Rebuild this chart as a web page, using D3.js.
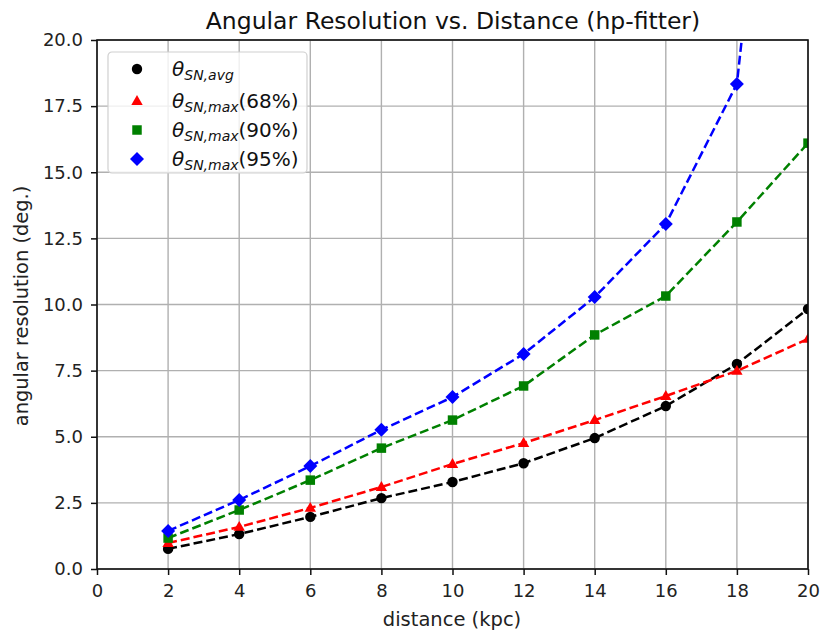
<!DOCTYPE html>
<html>
<head>
<meta charset="utf-8">
<script src="https://cdn.jsdelivr.net/npm/d3@7"></script>
<style>
  html, body { margin: 0; padding: 0; background: #fff; }
  svg { display: block; font-family: "DejaVu Sans", sans-serif; }
</style>
</head>
<body>
<svg id="chart" width="822" height="630"></svg>
<script>
// Distances (kpc) at which the resolution was evaluated
const distances = [2, 4, 6, 8, 10, 12, 14, 16, 18, 20];

// Angular resolution (deg.) per series
const thetaAvg   = [0.76, 1.32, 1.97, 2.68, 3.29, 4.00, 4.95, 6.16, 7.75, 9.83];
const thetaMax68 = [0.98, 1.59, 2.31, 3.10, 3.97, 4.76, 5.63, 6.54, 7.49, 8.70];
const thetaMax90 = [1.17, 2.23, 3.36, 4.57, 5.63, 6.92, 8.85, 10.32, 13.12, 16.10];
const thetaMax95 = [1.44, 2.61, 3.89, 5.26, 6.50, 8.13, 10.28, 13.04, 18.34, 43.0];

const xTicks = [0, 2, 4, 6, 8, 10, 12, 14, 16, 18, 20];
const yTicks = [0, 2.5, 5, 7.5, 10, 12.5, 15, 17.5, 20];

const seriesLabels = ["avg", "max", "max", "max"];
const seriesSuffix = ["", "(68%)", "(90%)", "(95%)"];
const seriesColors = ["#000000", "#ff0000", "#008000", "#0000ff"];
const seriesShapes = ["circle", "triangle", "square", "diamond"];
const seriesValues = [thetaAvg, thetaMax68, thetaMax90, thetaMax95];

const svg = d3.select("#chart");
const plotL = 97, plotR = 808, plotT = 40, plotB = 569;

const x = d3.scaleLinear().domain([0, 20]).range([plotL, plotR]);
const y = d3.scaleLinear().domain([0, 20]).range([plotB, plotT]);

// Grid
const grid = svg.append("g");
grid.selectAll("line.gx").data(xTicks).join("line")
  .attr("x1", d => x(d)).attr("x2", d => x(d))
  .attr("y1", plotT).attr("y2", plotB)
  .attr("stroke", "#b0b0b0").attr("stroke-width", 1.4);
grid.selectAll("line.gy").data(yTicks).join("line")
  .attr("y1", d => y(d)).attr("y2", d => y(d))
  .attr("x1", plotL).attr("x2", plotR)
  .attr("stroke", "#b0b0b0").attr("stroke-width", 1.4);

// Clip to plotting area
svg.append("clipPath").attr("id", "plotclip")
  .append("rect").attr("x", plotL).attr("y", plotT)
  .attr("width", plotR - plotL).attr("height", plotB - plotT);

const plot = svg.append("g").attr("clip-path", "url(#plotclip)");

function markerPath(shape) {
  if (shape === "diamond") {
    const r = 7;
    return `M0,${-r}L${r},0L0,${r}L${-r},0Z`;
  }
  if (shape === "triangle") {
    const r = 6;
    return `M0,${-r}L${r * 0.95},${r * 0.65}L${-r * 0.95},${r * 0.65}Z`;
  }
  if (shape === "square") {
    return d3.symbol().type(d3.symbolSquare).size(90)();
  }
  return d3.symbol().type(d3.symbolCircle).size(85)();
}

const line = d3.line().x(d => x(d[0])).y(d => y(d[1]));

seriesValues.forEach((vals, i) => {
  const pts = distances.map((d, j) => [d, vals[j]]);
  plot.append("path")
    .attr("d", line(pts))
    .attr("fill", "none")
    .attr("stroke", seriesColors[i])
    .attr("stroke-width", 2.5)
    .attr("stroke-dasharray", "9,4");
  plot.selectAll(null).data(pts).join("path")
    .attr("transform", d => `translate(${x(d[0])},${y(d[1])})`)
    .attr("d", markerPath(seriesShapes[i]))
    .attr("fill", seriesColors[i]);
});

// Frame
svg.append("rect")
  .attr("x", plotL).attr("y", plotT)
  .attr("width", plotR - plotL).attr("height", plotB - plotT)
  .attr("fill", "none").attr("stroke", "#111").attr("stroke-width", 1.6);

// Axes
const xAxis = d3.axisBottom(x).tickValues(xTicks).tickFormat(d3.format("d")).tickSize(6).tickPadding(9);
const yAxis = d3.axisLeft(y).tickValues(yTicks).tickFormat(d3.format(".1f")).tickSize(6).tickPadding(8);

const gx = svg.append("g").attr("transform", `translate(0,${plotB})`).call(xAxis);
const gy = svg.append("g").attr("transform", `translate(${plotL},0)`).call(yAxis);
[gx, gy].forEach(g => {
  g.select(".domain").remove();
  g.selectAll("line").attr("stroke", "#111").attr("stroke-width", 1.5);
  g.selectAll("text").attr("font-size", 18).attr("fill", "#222")
    .attr("font-family", "DejaVu Sans, sans-serif");
});

// Title and axis labels
svg.append("text")
  .attr("x", 453).attr("y", 29)
  .attr("text-anchor", "middle").attr("font-size", 23.5).attr("fill", "#111")
  .text("Angular Resolution vs. Distance (hp-fitter)");

svg.append("text")
  .attr("x", 452).attr("y", 626)
  .attr("text-anchor", "middle").attr("font-size", 19.5).attr("fill", "#222")
  .text("distance (kpc)");

svg.append("text")
  .attr("transform", `translate(28,306) rotate(-90)`)
  .attr("text-anchor", "middle").attr("font-size", 19.4).attr("fill", "#222")
  .text("angular resolution (deg.)");

// Legend
const legend = svg.append("g").attr("transform", "translate(108,52)");
legend.append("rect")
  .attr("width", 199).attr("height", 121).attr("rx", 4)
  .attr("fill", "#fff").attr("fill-opacity", 0.8)
  .attr("stroke", "#d0d0d0").attr("stroke-width", 1.2);

const rowY = [17, 49, 78, 107];
seriesColors.forEach((c, i) => {
  const row = legend.append("g").attr("transform", `translate(0,${rowY[i]})`);
  row.append("path")
    .attr("transform", "translate(29,0)")
    .attr("d", markerPath(seriesShapes[i]))
    .attr("fill", c);
  const t = row.append("text").attr("x", 64).attr("y", 7)
    .attr("font-size", 20).attr("fill", "#111");
  t.append("tspan").attr("font-style", "italic").text("θ");
  t.append("tspan").attr("font-style", "italic").attr("font-size", 14)
    .attr("dy", 4).text("SN," + seriesLabels[i]);
  t.append("tspan").attr("dy", -4).text(seriesSuffix[i]);
});
</script>
</body>
</html>
